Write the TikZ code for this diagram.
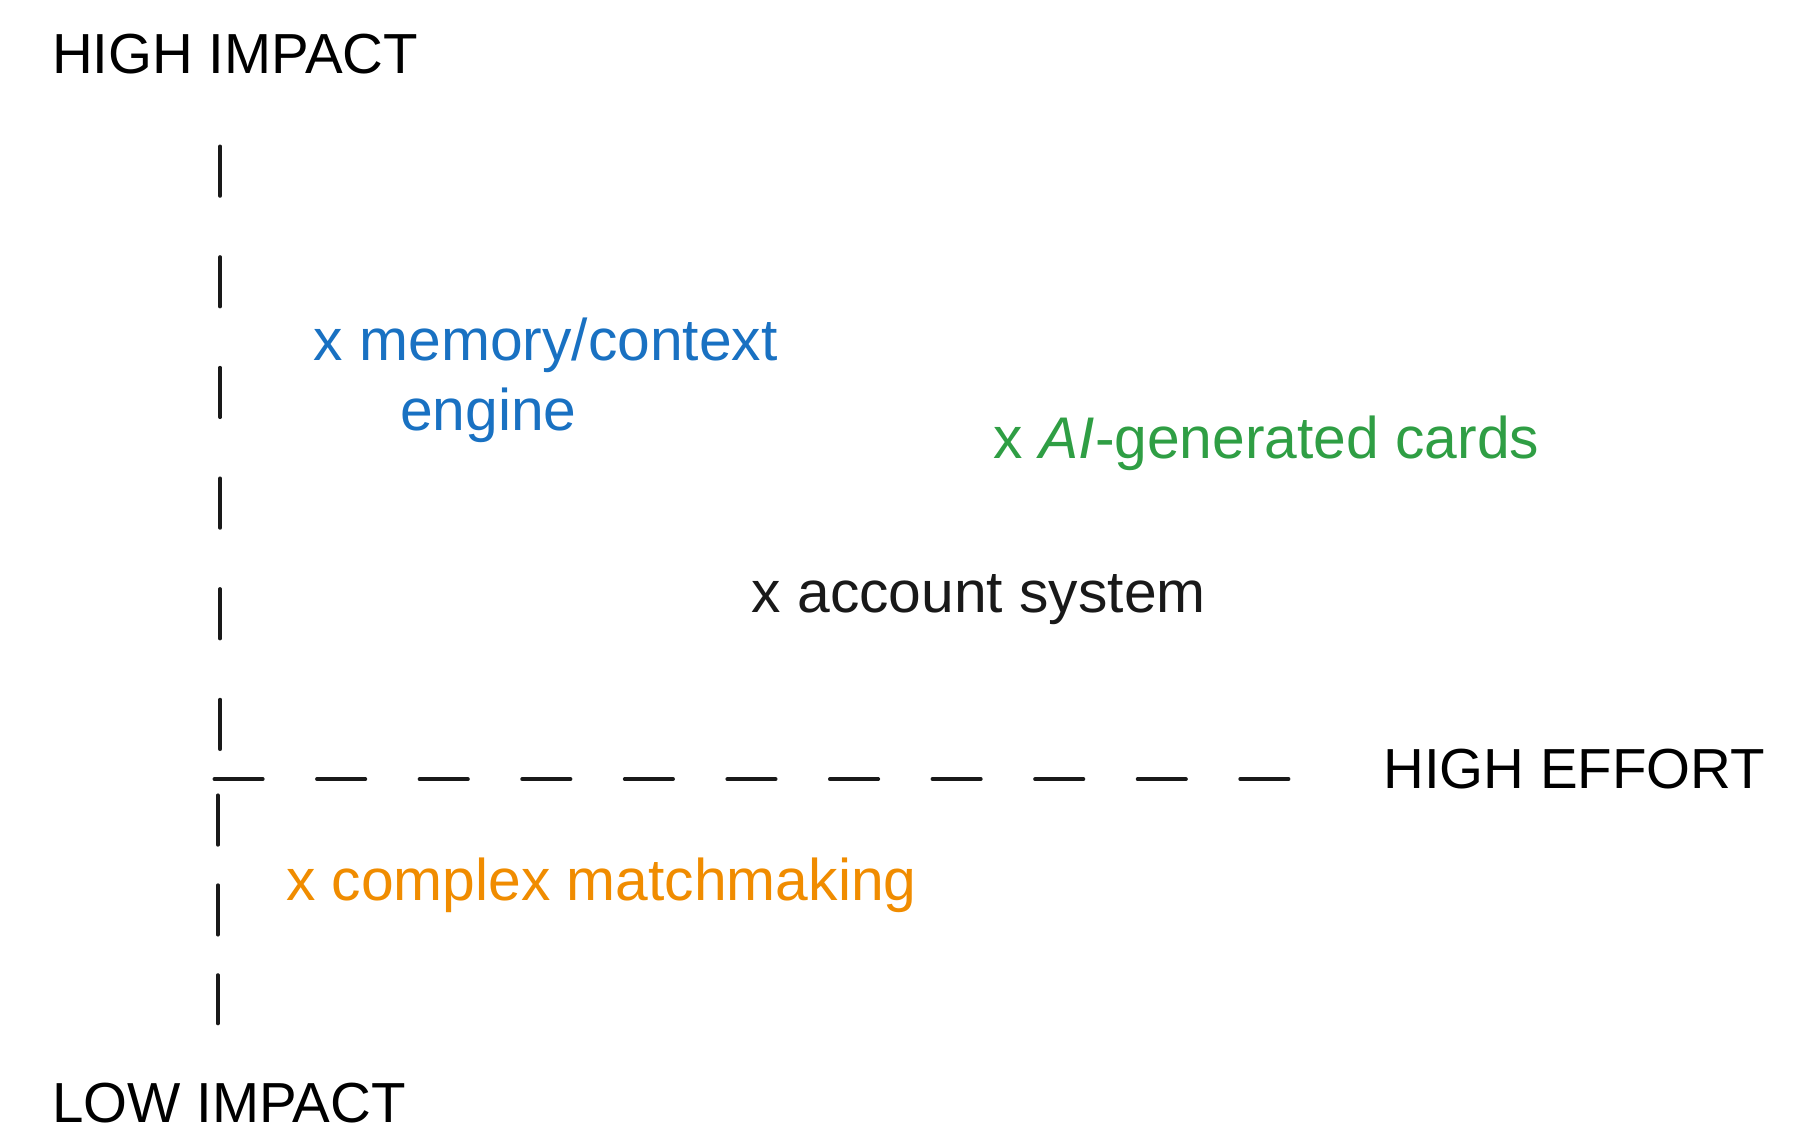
\documentclass[tikz,border=0pt]{standalone}
\usepackage{fontspec}
\setmainfont{Liberation Sans}
\begin{document}
\begin{tikzpicture}[x=1pt,y=-1pt,
  lbl/.style={anchor=west,inner sep=0pt,font=\fontsize{51}{56}\selectfont},
  axislbl/.style={anchor=west,inner sep=0pt,font=\fontsize{49}{56}\selectfont},
  axisline/.style={line width=3.2pt,line cap=round,black!90}]
\useasboundingbox (0,0) rectangle (1560,996);
\definecolor{cblue}{HTML}{1971C2}
\definecolor{cgreen}{HTML}{2F9E44}
\definecolor{corange}{HTML}{F08C00}
\node[axislbl] (hi) at (45,47) {HIGH IMPACT};
\node[axislbl] (lo) at (45,957) {LOW IMPACT};
\node[axislbl] (he) at (1200,667) {HIGH EFFORT};
\coordinate (vt) at (191,127);
\coordinate (vm) at (191,652);
\coordinate (vl) at (189,690);
\coordinate (vb) at (189,888);
\coordinate (hl) at (186,676);
\coordinate (hr) at (1164,676);
\draw[axisline,dash pattern=on 43pt off 53pt] (vt) -- (vm);
\draw[axisline,dash pattern=on 43pt off 35pt] (vl) -- (vb);
\draw[axisline,dash pattern=on 42pt off 47pt] (hl) -- (hr);
\node[lbl,cblue] (m1) at (272,300) {x memory/context};
\node[lbl,cblue] (m2) at (347,360) {engine};
\node[lbl,cgreen] (ai) at (862,385) {x \textit{AI}-generated cards};
\node[lbl,black!90] (ac) at (652,520) {x account system};
\node[lbl,corange] (cm) at (248,768) {x complex matchmaking};
\end{tikzpicture}
\end{document}
